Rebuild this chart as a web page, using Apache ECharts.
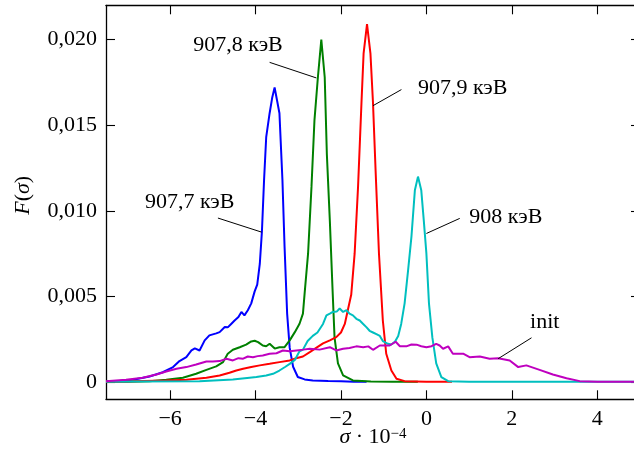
<!DOCTYPE html>
<html>
<head>
<meta charset="utf-8">
<script src="https://cdn.jsdelivr.net/npm/echarts@6.0.0/dist/echarts.min.js"></script>
<style>
html,body{margin:0;padding:0;background:#fff;}
#c{width:634px;height:451px;}
</style>
</head>
<body>
<div id="c"></div>
<script>
const FONT = "'Liberation Serif', 'DejaVu Serif', serif";

const xTicks = [-6, -4, -2, 0, 2, 4];
const yTicks = [0, 0.005, 0.01, 0.015, 0.02];

const seriesNames = ['907,7 кэВ', '907,8 кэВ', '907,9 кэВ', '908 кэВ', 'init'];

const blue = [
[-7.5,0.00004],[-7.26,0.00006],[-6.87,0.00014],[-6.48,0.00033],[-6.17,0.00058],[-5.93,0.00088],[-5.78,0.00123],[-5.62,0.00146],[-5.50,0.00185],[-5.42,0.00197],[-5.31,0.00185],[-5.19,0.00244],[-5.08,0.00273],[-4.92,0.00285],[-4.84,0.00292],[-4.72,0.00322],[-4.65,0.0032],[-4.57,0.0034],[-4.49,0.0036],[-4.40,0.0038],[-4.33,0.0041],[-4.26,0.0039],[-4.18,0.0042],[-4.10,0.0046],[-4.02,0.0053],[-3.96,0.0057],[-3.90,0.0069],[-3.85,0.0088],[-3.80,0.0118],[-3.75,0.0143],[-3.67,0.0157],[-3.61,0.0166],[-3.553,0.0172],[-3.50,0.0165],[-3.44,0.0157],[-3.37,0.0118],[-3.32,0.0079],[-3.26,0.0040],[-3.20,0.0020],[-3.12,0.0009],[-3.01,0.0003],[-2.85,0.00016],[-2.66,0.0001],[-2.3,0.00007],[-2.0,0.00005],[-1.7,0.00003],[-1.4,0.00002]
];

const green = [
[-7.5,0.00002],[-7.0,0.00003],[-6.48,0.00006],[-6.09,0.00014],[-5.70,0.00026],[-5.39,0.00049],[-5.15,0.00072],[-4.92,0.00092],[-4.76,0.00117],[-4.65,0.00166],[-4.53,0.00189],[-4.37,0.00204],[-4.22,0.00219],[-4.10,0.00238],[-4.02,0.00242],[-3.94,0.00234],[-3.83,0.00214],[-3.75,0.0021],[-3.67,0.00224],[-3.55,0.00196],[-3.44,0.00204],[-3.32,0.00204],[-3.20,0.00244],[-3.08,0.00292],[-2.97,0.00341],[-2.89,0.0040],[-2.85,0.0052],[-2.77,0.0075],[-2.69,0.0114],[-2.62,0.0153],[-2.54,0.0178],[-2.46,0.0200],[-2.38,0.0178],[-2.33,0.0133],[-2.26,0.0094],[-2.20,0.0056],[-2.15,0.0026],[-2.07,0.0011],[-1.95,0.0004],[-1.72,0.0001],[-1.3,0.00004],[-0.8,0.00003],[-0.2,0.00003]
];

const red = [
[-7.5,0.00002],[-6.87,0.00005],[-6.09,0.0001],[-5.62,0.00014],[-5.15,0.00026],[-4.84,0.00039],[-4.61,0.00055],[-4.45,0.00068],[-4.29,0.00078],[-4.10,0.00088],[-3.90,0.00098],[-3.67,0.00107],[-3.44,0.00117],[-3.20,0.00127],[-3.05,0.0014],[-2.89,0.0015],[-2.73,0.00175],[-2.58,0.0020],[-2.42,0.00226],[-2.26,0.00244],[-2.11,0.00263],[-2.0,0.0029],[-1.91,0.0034],[-1.84,0.0042],[-1.76,0.0051],[-1.68,0.0075],[-1.60,0.0114],[-1.52,0.0163],[-1.47,0.0192],[-1.39,0.0209],[-1.31,0.0192],[-1.25,0.0163],[-1.19,0.0124],[-1.11,0.0075],[-1.02,0.0036],[-0.94,0.00166],[-0.82,0.00068],[-0.70,0.0002],[-0.51,0.00006],[0.0,0.00003],[0.6,0.00003]
];

const cyan = [
[-7.5,0.00003],[-6.87,0.00004],[-5.31,0.00006],[-4.53,0.00016],[-4.14,0.00026],[-3.98,0.0003],[-3.75,0.00039],[-3.59,0.00049],[-3.44,0.00068],[-3.30,0.0009],[-3.20,0.00107],[-3.08,0.0013],[-2.97,0.0018],[-2.89,0.0019],[-2.78,0.0024],[-2.66,0.0027],[-2.55,0.0029],[-2.42,0.0034],[-2.34,0.0039],[-2.26,0.0040],[-2.19,0.0041],[-2.10,0.00412],[-2.03,0.0043],[-1.95,0.0041],[-1.87,0.0042],[-1.80,0.0040],[-1.72,0.0039],[-1.64,0.0037],[-1.56,0.0036],[-1.48,0.0034],[-1.40,0.0032],[-1.33,0.0030],[-1.25,0.0029],[-1.17,0.0028],[-1.09,0.0027],[-1.02,0.0024],[-0.90,0.00224],[-0.82,0.0022],[-0.74,0.00235],[-0.66,0.0027],[-0.59,0.0034],[-0.51,0.0046],[-0.43,0.0065],[-0.35,0.0085],[-0.27,0.0112],[-0.197,0.0120],[-0.12,0.0112],[-0.06,0.0094],[0.0,0.0075],[0.06,0.0046],[0.14,0.0026],[0.23,0.0011],[0.35,0.0003],[0.51,0.00006],[1.0,0.00003],[4.9,0.00003]
];

const magenta = [
[-7.5,0.00006],[-7.03,0.00014],[-6.64,0.00026],[-6.32,0.00045],[-6.09,0.00062],[-5.85,0.00078],[-5.62,0.00088],[-5.39,0.00103],[-5.15,0.00121],[-5.0,0.0012],[-4.84,0.00123],[-4.68,0.00137],[-4.53,0.00127],[-4.40,0.0014],[-4.29,0.00137],[-4.18,0.0015],[-4.06,0.00146],[-3.95,0.00152],[-3.83,0.00156],[-3.67,0.00166],[-3.51,0.00169],[-3.36,0.00185],[-3.2,0.0018],[-3.04,0.00185],[-2.88,0.0019],[-2.73,0.00195],[-2.5,0.0019],[-2.26,0.00204],[-2.11,0.00185],[-1.95,0.00195],[-1.8,0.002],[-1.64,0.00209],[-1.48,0.00204],[-1.36,0.00209],[-1.25,0.00189],[-1.09,0.00214],[-0.98,0.00214],[-0.86,0.00214],[-0.72,0.00236],[-0.62,0.0021],[-0.55,0.00209],[-0.47,0.00209],[-0.35,0.0022],[-0.23,0.00219],[-0.12,0.0021],[0.0,0.00204],[0.12,0.0021],[0.23,0.00224],[0.31,0.00214],[0.39,0.00195],[0.43,0.00192],[0.51,0.00209],[0.62,0.00166],[0.86,0.00166],[1.01,0.00146],[1.25,0.0015],[1.48,0.00137],[1.68,0.0014],[1.95,0.00127],[2.15,0.00088],[2.34,0.00098],[2.65,0.00072],[2.96,0.00045],[3.28,0.00023],[3.59,0.00006],[4.0,0.00003],[4.9,0.00003]
];

const seriesColors = ['#0000ff', '#008000', '#ff0000', '#00bfbf', '#bf00bf'];
const seriesData = [blue, green, red, cyan, magenta];

// annotation text positions (data coords) and leader lines
const annotLabels = ['907,7 кэВ', '907,8 кэВ', '907,9 кэВ', '908 кэВ', 'init'];
const annotPos = [[-5.54, 0.0105], [-4.41, 0.01967], [0.85, 0.01716], [1.86, 0.00962], [2.77, 0.0035]];
const leaderFrom = [[-4.88, 0.00958], [-3.67, 0.01867], [-0.585, 0.01708], [0.78, 0.00956], [2.46, 0.00259]];
const leaderTo = [[-3.86, 0.00876], [-2.576, 0.01776], [-1.25, 0.01614], [0.0, 0.00868], [1.68, 0.00137]];

const chart = echarts.init(document.getElementById('c'), null, {renderer: 'canvas'});

const fmtX = v => (v < 0 ? '\u2212' + Math.abs(v) : String(v));
const fmtY = v => (Math.abs(v) < 1e-12 ? '0' : v.toFixed(3).replace('.', ','));

const axisLineStyle = {color: '#000', width: 1.3};
const labelStyle = {color: '#000', fontFamily: FONT, fontSize: 22};

function xAx(pos, showLabel) {
  return {
    type: 'value', position: pos, min: -7.5, max: 5,
    axisLine: {show: true, onZero: false, lineStyle: axisLineStyle},
    axisTick: {show: true, inside: true, length: 9, customValues: xTicks, lineStyle: {color: '#000', width: 1.1}},
    axisLabel: Object.assign({show: showLabel, customValues: xTicks, formatter: fmtX, margin: 9}, labelStyle),
    splitLine: {show: false}
  };
}
function yAx(pos, showLabel) {
  return {
    type: 'value', position: pos, min: -0.001, max: 0.022,
    axisLine: {show: true, onZero: false, lineStyle: axisLineStyle},
    axisTick: {show: true, inside: true, length: 9, customValues: yTicks, lineStyle: {color: '#000', width: 1.1}},
    axisLabel: Object.assign({show: showLabel, customValues: yTicks, formatter: fmtY, margin: 9}, labelStyle),
    splitLine: {show: false}
  };
}

const xMain = xAx('bottom', true);
xMain.name = '{i|σ} · 10{sup|\u22124}';
xMain.nameLocation = 'middle';
xMain.nameGap = 27;
xMain.nameMoveOverlap = false;
xMain.nameTextStyle = {
  color: '#000', fontFamily: FONT, fontSize: 22,
  rich: {
    i: {fontStyle: 'italic', fontFamily: FONT, fontSize: 22, color: '#000'},
    sup: {fontFamily: FONT, fontSize: 15, color: '#000', verticalAlign: 'top', lineHeight: 15}
  }
};
const yMain = yAx('left', true);
yMain.name = '{i|F}({i|σ})';
yMain.nameLocation = 'middle';
yMain.nameGap = 72;
yMain.nameMoveOverlap = false;
yMain.nameTextStyle = {
  color: '#000', fontFamily: FONT, fontSize: 22, padding: [0, 0, 0, 14],
  rich: {i: {fontStyle: 'italic', fontFamily: FONT, fontSize: 22, color: '#000'}}
};

const series = [];
seriesData.forEach((d, i) => {
  series.push({
    name: seriesNames[i], type: 'line', data: d, xAxisIndex: 0, yAxisIndex: 0,
    showSymbol: false, symbol: 'none', silent: true,
    lineStyle: {color: seriesColors[i], width: 2}, z: 2 + i
  });
});
leaderFrom.forEach((p, i) => {
  series.push({
    type: 'line', data: [p, leaderTo[i]], xAxisIndex: 0, yAxisIndex: 0,
    showSymbol: false, symbol: 'none', silent: true,
    lineStyle: {color: '#000', width: 1}, z: 10
  });
});
series.push({
  type: 'scatter', xAxisIndex: 0, yAxisIndex: 0, silent: true, z: 11,
  symbolSize: 0, itemStyle: {color: '#000'},
  data: annotPos.map((p, i) => ({value: p, name: annotLabels[i]})),
  label: {show: true, position: 'inside', formatter: p => p.name, opacity: 1,
          color: '#000', fontFamily: FONT, fontSize: 22, textBorderWidth: 0}
});

chart.setOption({
  animation: false,
  backgroundColor: '#fff',
  grid: {left: 106, top: 5.3, width: 534, height: 394, containLabel: false, outerBoundsMode: 'none'},
  xAxis: [xMain, xAx('top', false)],
  yAxis: [yMain, yAx('right', false)],
  series: series
});
</script>
</body>
</html>
